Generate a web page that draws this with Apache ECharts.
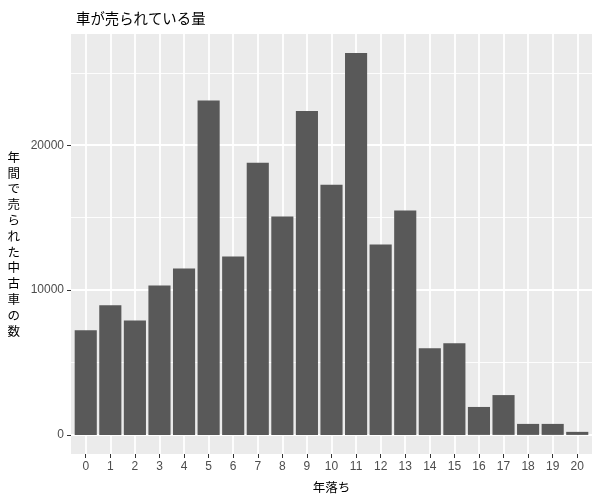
<!DOCTYPE html>
<html>
<head>
<meta charset="utf-8">
<script src="https://cdn.jsdelivr.net/npm/echarts@6/dist/echarts.min.js"></script>
<style>
  html, body { margin: 0; padding: 0; background: #fff; }
  #chart { width: 600px; height: 500px; }
</style>
</head>
<body>
<div id="chart"></div>
<script>
// years since registration and number of used cars sold per year
const ages = [0, 1, 2, 3, 4, 5, 6, 7, 8, 9, 10, 11, 12, 13, 14, 15, 16, 17, 18, 19, 20];
const sold = [7230, 8950, 7900, 10320, 11490, 23080, 12320, 18790, 15070, 22370,
              17270, 26360, 13150, 15490, 5990, 6330, 1930, 2750, 760, 760, 210];
const yMajorTicks = [0, 10000, 20000];
const yMinorTicks = [5000, 15000, 25000];

const jpFont = '"Noto Sans CJK JP", "Noto Sans", sans-serif';
const numFont = '"Liberation Sans", Arial, sans-serif';

// ggplot-style padding: 5% on the value axis, 0.6 on the discrete one
const yPad = Math.max(...sold) * 0.05;
const yMin = -yPad;
const yMax = Math.max(...sold) + yPad;

const chart = echarts.init(document.getElementById('chart'));

const yAxisTitle = '年間で売られた中古車の数'.split('').join('\n');

const option = {
    animation: false,
    backgroundColor: '#fff',
    title: {
        text: '車が売られている量',
        left: 71,
        top: 6,
        textStyle: { fontFamily: jpFont, fontSize: 14.4, fontWeight: 'normal', color: '#000' }
    },
    grid: {
        left: 71,
        right: 8,
        top: 34,
        bottom: 46,
        show: true,
        backgroundColor: '#EBEBEB',
        borderWidth: 0
    },
    xAxis: {
        type: 'value',
        min: -0.6,
        max: ages.length - 1 + 0.6,
        name: '年落ち',
        nameLocation: 'middle',
        nameGap: 27,
        nameTextStyle: { fontFamily: jpFont, fontSize: 12.5, color: '#000' },
        axisLine: { show: false, onZero: false },
        axisTick: {
            customValues: ages,
            length: 4,
            lineStyle: { color: '#333', width: 1 }
        },
        axisLabel: {
            customValues: ages,
            margin: 7,
            color: '#4D4D4D',
            fontFamily: numFont,
            fontSize: 12
        },
        splitLine: { show: true, lineStyle: { color: '#fff', width: 1.8 } }
    },
    yAxis: [
        {
            type: 'value',
            min: yMin,
            max: yMax,
            name: yAxisTitle,
            nameLocation: 'middle',
            nameRotate: 0,
            nameGap: 51,
            nameTextStyle: { fontFamily: jpFont, fontSize: 12.5, lineHeight: 15.8, color: '#000', padding: [4, 0, 0, 0] },
            axisLine: { show: false, onZero: false },
            axisTick: {
                customValues: yMajorTicks,
                length: 4,
                lineStyle: { color: '#333', width: 1 }
            },
            axisLabel: {
                customValues: yMajorTicks,
                margin: 7,
                color: '#4D4D4D',
                fontFamily: numFont,
                fontSize: 12,
                formatter: v => String(v)
            },
            splitLine: { show: true, lineStyle: { color: '#fff', width: 1.8 } }
        },
        {
            // minor grid lines only
            type: 'value',
            position: 'left',
            min: yMin,
            max: yMax,
            axisLine: { show: false, onZero: false },
            axisTick: { show: false, customValues: yMinorTicks },
            axisLabel: { show: false, customValues: yMinorTicks },
            splitLine: { show: true, lineStyle: { color: '#fff', width: 0.9 } }
        }
    ],
    series: [
        {
            name: '販売台数',
            type: 'bar',
            barWidth: '90%',
            itemStyle: { color: '#595959' },
            data: ages.map((a, i) => [a, sold[i]])
        }
    ]
};

chart.setOption(option);
</script>
</body>
</html>
